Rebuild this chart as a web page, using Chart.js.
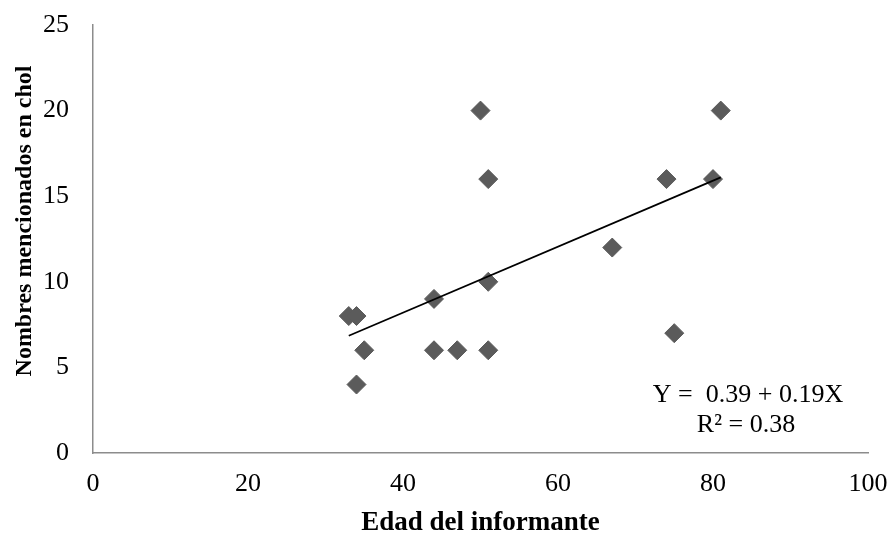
<!DOCTYPE html>
<html>
<head>
<meta charset="utf-8">
<script src="https://cdn.jsdelivr.net/npm/chart.js@4/dist/chart.umd.min.js"></script>
<style>
  html, body { margin: 0; padding: 0; background: #ffffff; }
  #wrap { width: 891px; height: 535px; position: relative; }
</style>
</head>
<body>
<div id="wrap"><canvas id="c" width="891" height="535"></canvas></div>
<script>
// Data
const ageValues   = [33, 34, 35, 34, 44, 44, 47, 50, 51, 51, 51, 67, 74, 75, 80, 81];
const namesValues = [ 8,  8,  6,  4,  9,  6,  6, 20, 16, 10,  6, 12, 16,  7, 16, 20];
const trendX = [33, 81];
const trendY = [6.85, 16.1];
const xTicks = [0, 20, 40, 60, 80, 100];
const yTicks = [0, 5, 10, 15, 20, 25];
const xTitle = 'Edad del informante';
const yTitle = 'Nombres mencionados en chol';
const equationLines = ['Y =  0.39 + 0.19X', 'R\u00B2 = 0.38'];

const points = ageValues.map((x, i) => ({ x: x, y: namesValues[i] }));
const trend = trendX.map((x, i) => ({ x: x, y: trendY[i] }));

const FONT = '"Liberation Serif", "Times New Roman", serif';

const textPlugin = {
  id: 'texts',
  afterDraw(chart) {
    const ctx = chart.ctx;
    const a = chart.chartArea;
    ctx.save();
    ctx.fillStyle = '#000';
    ctx.textAlign = 'center';
    // x axis title
    ctx.font = 'bold 27px ' + FONT;
    ctx.textBaseline = 'alphabetic';
    ctx.fillText(xTitle, (a.left + a.right) / 2, 530);
    // y axis title
    ctx.font = 'bold 24px ' + FONT;
    ctx.textBaseline = 'middle';
    ctx.save();
    ctx.translate(25, 221);
    ctx.rotate(-Math.PI / 2);
    ctx.fillText(yTitle, 0, 0);
    ctx.restore();
    // equation
    ctx.font = '26px ' + FONT;
    ctx.textBaseline = 'alphabetic';
    ctx.fillText(equationLines[0], 748, 402);
    ctx.fillText(equationLines[1], 746, 432);
    ctx.restore();
  }
};

new Chart(document.getElementById('c'), {
  type: 'scatter',
  data: {
    datasets: [
      {
        label: 'Datos',
        data: points,
        pointStyle: 'rectRot',
        pointRadius: 9.5,
        pointHoverRadius: 9.5,
        backgroundColor: '#5b5b5b',
        borderColor: '#5b5b5b',
        borderWidth: 1,
        order: 2
      },
      {
        label: 'Tendencia',
        type: 'line',
        data: trend,
        borderColor: '#000000',
        borderWidth: 1.75,
        pointRadius: 0,
        fill: false,
        order: 1
      }
    ]
  },
  options: {
    responsive: false,
    animation: false,
    devicePixelRatio: 1,
    layout: { padding: { top: 25, right: 23, bottom: 0, left: 0 } },
    plugins: {
      legend: { display: false },
      tooltip: { enabled: false }
    },
    scales: {
      x: {
        type: 'linear',
        min: 0, max: 100,
        afterBuildTicks(scale) { scale.ticks = xTicks.map(v => ({ value: v })); },
        afterFit(scale) {
          scale.height = 82;
          scale.paddingLeft = 0; scale.paddingRight = 0;
        },
        grid: { display: false, drawTicks: false },
        border: { display: true, color: '#8c8c8c', width: 1.5 },
        ticks: {
          padding: 16,
          color: '#000',
          font: { family: FONT, size: 26 },
          maxRotation: 0
        }
      },
      y: {
        type: 'linear',
        min: 0, max: 25,
        afterBuildTicks(scale) { scale.ticks = yTicks.map(v => ({ value: v })); },
        afterFit(scale) {
          scale.width = 93;
          scale.paddingTop = 0; scale.paddingBottom = 0;
        },
        grid: { display: false, drawTicks: false },
        border: { display: true, color: '#8c8c8c', width: 1.5 },
        ticks: {
          padding: 24,
          color: '#000',
          font: { family: FONT, size: 26 }
        }
      }
    }
  },
  plugins: [textPlugin]
});
</script>
</body>
</html>
